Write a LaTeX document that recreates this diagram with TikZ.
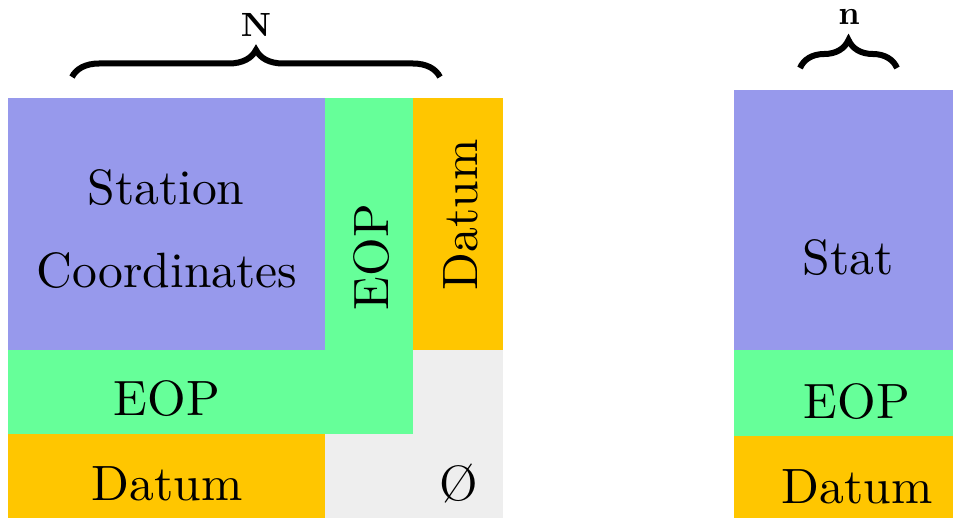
\documentclass[tikz,border=0pt]{standalone}
\usetikzlibrary{decorations.pathreplacing}
\definecolor{stblue}{RGB}{151,153,236}
\definecolor{eopgreen}{RGB}{102,255,153}
\definecolor{datorange}{RGB}{255,198,0}
\definecolor{nullgrey}{RGB}{238,238,238}
\newcommand{\bigtxt}[1]{\scalebox{2.48}{\fontsize{10}{12}\selectfont #1}}
\newcommand{\bracetxt}[1]{\scalebox{1.68}{\fontsize{10}{12}\selectfont\bfseries #1}}
\begin{document}
\begin{tikzpicture}[x=0.5pt,y=-0.5pt,
  lbl/.style={inner sep=0pt,anchor=base},
  vlbl/.style={lbl,rotate=90},
  bracelbl/.style={inner sep=0pt,anchor=base},
  bracestyle/.style={decorate,line width=3pt,decoration={brace,amplitude=13.5pt}}]
\useasboundingbox (0,0) rectangle (953,518);
% left matrix
\fill[nullgrey] (325,350) rectangle (503,518);
\fill[eopgreen] (8,350) rectangle (413,434);
\fill[eopgreen] (325,98) rectangle (413,434);
\fill[datorange] (413,98) rectangle (503,350);
\fill[stblue] (8,98) rectangle (325,350);
\fill[datorange] (8,434) rectangle (325,518);
% right vector
\fill[stblue] (734,90) rectangle (953,350);
\fill[eopgreen] (734,350) rectangle (953,436);
\fill[datorange] (734,436) rectangle (953,518);
% labels
\node[lbl] (station) at (166,205) {\bigtxt{Station}};
\node[lbl] (coords) at (167,288) {\bigtxt{Coordinates}};
\node[vlbl] (eopv) at (388,257) {\bigtxt{EOP}};
\node[vlbl] (datv) at (477,215) {\bigtxt{Datum}};
\node[lbl] (eoph) at (167,415) {\bigtxt{EOP}};
\node[lbl] (dath) at (167,500) {\bigtxt{Datum}};
\node[lbl] (empty) at (459,500) {\bigtxt{\O}};
\node[lbl] (stat) at (848,275) {\bigtxt{Stat}};
\node[lbl] (eopr) at (857,418) {\bigtxt{EOP}};
\node[lbl] (datr) at (857,503) {\bigtxt{Datum}};
% braces
\coordinate (bl1) at (72,77);
\coordinate (bl2) at (440,77);
\coordinate (br1) at (800,68);
\coordinate (br2) at (897,68);
\draw[bracestyle] (bl1) -- (bl2);
\draw[bracestyle,decoration={amplitude=14pt}] (br1) -- (br2);
\node[bracelbl] (N) at (256,37) {\bracetxt{N}};
\node[bracelbl] (n) at (849,25) {\bracetxt{n}};
\end{tikzpicture}
\end{document}
